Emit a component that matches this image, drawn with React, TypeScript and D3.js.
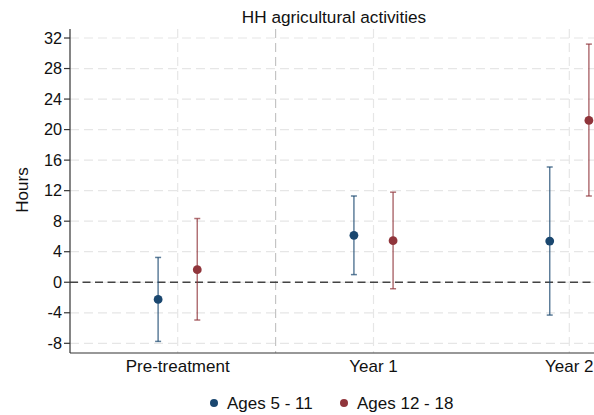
import React from "react";
import * as d3 from "d3";

const categories = ["Pre-treatment", "Year 1", "Year 2"];
const seriesNames = ["Ages 5 - 11", "Ages 12 - 18"];
const estYoung = [-2.25, 6.15, 5.4];
const lowYoung = [-7.75, 1.0, -4.3];
const highYoung = [3.25, 11.3, 15.1];
const estOld = [1.65, 5.45, 21.2];
const lowOld = [-4.95, -0.85, 11.3];
const highOld = [8.35, 11.8, 31.2];
const yTicks = [-8, -4, 0, 4, 8, 12, 16, 20, 24, 28, 32];

const W = 594, H = 415;
const left = 70, right = 677, top = 29, bottom = 353;
const FONT = "'Liberation Sans', Arial, sans-serif";

export default function App() {
  const x = d3.scaleLinear().domain([0.45, 3.55]).range([left, right]);
  const y = d3.scaleLinear().domain([-9.27, 33.18]).range([bottom, top]);
  const colors = ["#1a476f", "#90353b"];
  const offsets = [-0.1, 0.1];
  const series = [
    { est: estYoung, lo: lowYoung, hi: highYoung },
    { est: estOld, lo: lowOld, hi: highOld },
  ];
  return (
    <svg width={W} height={H} style={{ position: "fixed", left: 0, top: 0, background: "#fff" }} fontFamily={FONT}>
      <rect width={W} height={H} fill="#fff" />
      <text x={334} y={23} textAnchor="middle" fontSize={17.2} fill="#111">HH agricultural activities</text>
      {/* grid */}
      {yTicks.map((t) => (
        <line key={"g" + t} x1={left} x2={W} y1={y(t)} y2={y(t)} stroke="#e6e6e6" strokeWidth={1.2} strokeDasharray="9,5" />
      ))}
      {categories.map((c, i) => (
        <line key={"v" + c} x1={x(i + 1)} x2={x(i + 1)} y1={top} y2={bottom} stroke="#e6e6e6" strokeWidth={1.2} strokeDasharray="9,5" />
      ))}
      <line x1={x(1.5)} x2={x(1.5)} y1={top} y2={bottom} stroke="#c4c4c4" strokeWidth={1.2} strokeDasharray="9,5" />
      <line x1={left} x2={W} y1={y(0)} y2={y(0)} stroke="#444" strokeWidth={1.6} strokeDasharray="8,4.5" />
      {/* axes */}
      <line x1={left} x2={left} y1={top} y2={bottom} stroke="#333" strokeWidth={1.2} />
      <line x1={left} x2={W} y1={bottom} y2={bottom} stroke="#333" strokeWidth={1.2} />
      {yTicks.map((t) => (
        <g key={"t" + t}>
          <line x1={left - 6} x2={left} y1={y(t)} y2={y(t)} stroke="#333" strokeWidth={1.2} />
          <text x={left - 8} y={y(t)} dy="0.35em" textAnchor="end" fontSize={16.3} fill="#111">{t}</text>
        </g>
      ))}
      {categories.map((c, i) => (
        <text key={"c" + c} x={x(i + 1)} y={372} textAnchor="middle" fontSize={17} fill="#111">{c}</text>
      ))}
      <text transform={`translate(28,${190}) rotate(-90)`} textAnchor="middle" fontSize={17} fill="#111">Hours</text>
      {/* series */}
      {series.map((s, si) =>
        categories.map((c, i) => {
          const cx = x(i + 1 + offsets[si]);
          return (
            <g key={si + "-" + i}>
              <line x1={cx} x2={cx} y1={y(s.lo[i])} y2={y(s.hi[i])} stroke={colors[si]} strokeOpacity={0.7} strokeWidth={1.5} />
              <line x1={cx - 3} x2={cx + 3} y1={y(s.lo[i])} y2={y(s.lo[i])} stroke={colors[si]} strokeOpacity={0.7} strokeWidth={1.5} />
              <line x1={cx - 3} x2={cx + 3} y1={y(s.hi[i])} y2={y(s.hi[i])} stroke={colors[si]} strokeOpacity={0.7} strokeWidth={1.5} />
              <circle cx={cx} cy={y(s.est[i])} r={4.4} fill={colors[si]} />
            </g>
          );
        })
      )}
      {/* legend */}
      {seriesNames.map((n, i) => {
        const lx = [214, 344][i];
        return (
          <g key={n}>
            <circle cx={lx} cy={403} r={4} fill={colors[i]} />
            <text x={lx + 13} y={409} fontSize={17} fill="#111">{n}</text>
          </g>
        );
      })}
    </svg>
  );
}
